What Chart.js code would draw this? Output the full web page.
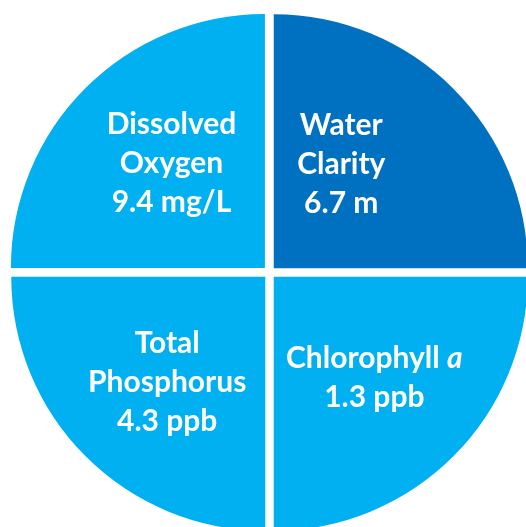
<!DOCTYPE html>
<html>
<head>
<meta charset="utf-8">
<script src="https://cdn.jsdelivr.net/npm/chart.js@4/dist/chart.umd.min.js"></script>
<style>
    html, body { margin: 0; padding: 0; overflow: hidden; background: #fff; }
    #wrap { position: absolute; left: 0; top: 0; width: 539px; height: 545px; }
</style>
</head>
<body>
<div id="wrap"><canvas id="myChart"></canvas></div>
<script>
// data, clockwise starting at 9 o'clock
let categories = [["Dissolved", "Oxygen"], ["Water", "Clarity"], ["Chlorophyll a"], ["Total", "Phosphorus"]];
let values = [9.4, 6.7, 1.3, 4.3];
let units = ["mg/L", "m", "ppb", "ppb"];
let shares = [1, 1, 1, 1]; // every quarter is the same size
let italicTerms = ["a"]; // "Chlorophyll a" -> a in italics

let colors = ["#00B0F0", "#0070C0", "#00B0F0", "#00B0F0"];

// text block nudges from the slice centre point (x, y)
let shift = [[1, -11], [-26.5, -11], [6.5, 5.5], [-4, 10]];

let FONT = "Lato";

// draws the name + value on each slice
const sliceText = {
    id: "sliceText",
    afterDatasetsDraw(chart) {
        let ctx = chart.ctx;
        let arcs = chart.getDatasetMeta(0).data;
        let size = 30, lh = 39, cap = size * 0.72;
        ctx.save();
        ctx.fillStyle = "#fff";
        ctx.textBaseline = "alphabetic";
        for (let i = 0; i < arcs.length; i++) {
            let p = arcs[i].getCenterPoint();
            let cx = p.x + shift[i][0];
            let cy = p.y + shift[i][1];
            let lines = categories[i].concat([values[i] + " " + units[i]]);
            for (let j = 0; j < lines.length; j++) {
                let y = cy + (j - (lines.length - 1) / 2) * lh + cap / 2;
                // split into pieces so single terms can be italic
                let words = lines[j].split(" ");
                let parts = [];
                let total = 0;
                for (let k = 0; k < words.length; k++) {
                    let txt = words[k] + (k < words.length - 1 ? " " : "");
                    let it = italicTerms.indexOf(words[k]) >= 0;
                    ctx.font = (it ? "italic " : "") + "bold " + size + "px " + FONT;
                    let w = ctx.measureText(txt).width;
                    parts.push({ txt: txt, it: it, w: w });
                    total += w;
                }
                let x = cx - total / 2;
                for (let k = 0; k < parts.length; k++) {
                    ctx.font = (parts[k].it ? "italic " : "") + "bold " + size + "px " + FONT;
                    ctx.textAlign = "left";
                    ctx.fillText(parts[k].txt, x, y);
                    x += parts[k].w;
                }
            }
        }
        ctx.restore();
    }
};

let myChart = document.getElementById("myChart").getContext("2d");
var chart = new Chart(myChart,
{
    type: "pie",
    data: {
        labels: categories.map(c => c.join(" ")),
        datasets: [
            {
                data: shares,
                backgroundColor: colors,
                borderWidth: 0,
                offset: [26, 24, 24, 24] // chart.js draws offset / 4
            }
        ]
    },
    options: {
        responsive: true,
        maintainAspectRatio: false,
        animation: false,
        rotation: -90,
        radius: 254,
        layout: { padding: 0 },
        events: [],
        plugins: {
            legend: { display: false },
            tooltip: { enabled: false }
        }
    },
    plugins: [sliceText]
});
</script>
</body>
</html>
